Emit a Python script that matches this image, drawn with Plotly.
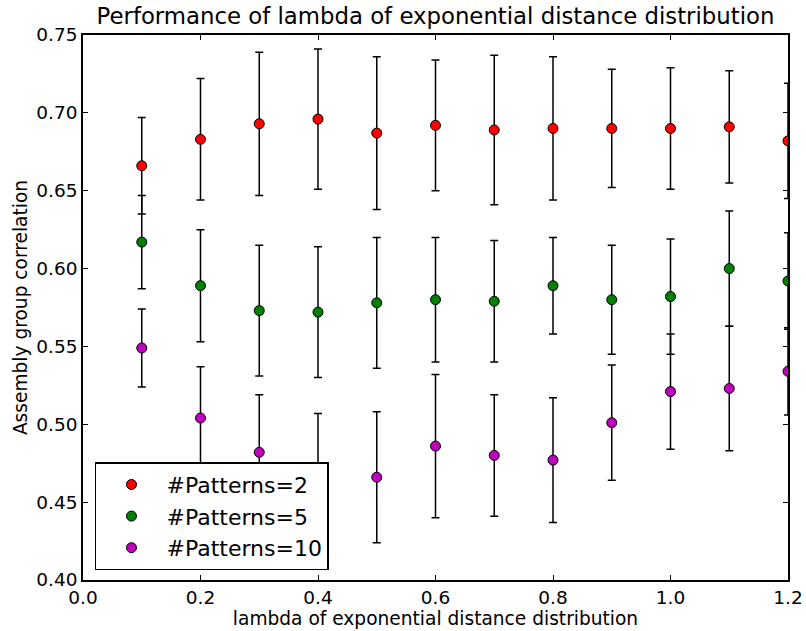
import plotly.graph_objects as go

# lambda values of the exponential distance distribution
lambdas = [0.1, 0.2, 0.3, 0.4, 0.5, 0.6, 0.7, 0.8, 0.9, 1.0, 1.1, 1.2]

# mean assembly group correlation and its standard deviation per pattern count
corr_p2 = [0.666, 0.683, 0.693, 0.696, 0.687, 0.692, 0.689, 0.690, 0.690, 0.690, 0.691, 0.682]
err_p2 = [0.031, 0.039, 0.046, 0.045, 0.049, 0.042, 0.048, 0.046, 0.038, 0.039, 0.036, 0.037]

corr_p5 = [0.617, 0.589, 0.573, 0.572, 0.578, 0.580, 0.579, 0.589, 0.580, 0.582, 0.600, 0.592]
err_p5 = [0.030, 0.036, 0.042, 0.042, 0.042, 0.040, 0.039, 0.031, 0.035, 0.037, 0.037, 0.031]

corr_p10 = [0.549, 0.504, 0.482, 0.469, 0.466, 0.486, 0.480, 0.477, 0.501, 0.521, 0.523, 0.534]
err_p10 = [0.025, 0.033, 0.037, 0.038, 0.042, 0.046, 0.039, 0.040, 0.037, 0.037, 0.040, 0.028]

x_ticks = [0.0, 0.2, 0.4, 0.6, 0.8, 1.0, 1.2]
y_ticks = [0.40, 0.45, 0.50, 0.55, 0.60, 0.65, 0.70, 0.75]

series = [
    ("#Patterns=2", corr_p2, err_p2, "#ff0000"),
    ("#Patterns=5", corr_p5, err_p5, "#008000"),
    ("#Patterns=10", corr_p10, err_p10, "#bf00bf"),
]

FONT = "DejaVu Sans, Liberation Sans, sans-serif"

fig = go.Figure()
for i, (name, vals, errs, color) in enumerate(series):
    fig.add_trace(go.Scatter(
        x=lambdas, y=vals, mode="markers", name=name,
        legendgroup=f"g{i}",
        marker=dict(size=10, color=color, line=dict(color="black", width=1)),
        error_y=dict(type="data", array=errs, visible=True,
                     color="black", thickness=1.5, width=4),
        cliponaxis=True,
    ))

axis_common = dict(
    showline=True, linecolor="black", linewidth=1.5, mirror="ticks",
    ticks="inside", ticklen=5, tickcolor="black", tickwidth=1,
    showgrid=False, zeroline=False, automargin=False,
    tickfont=dict(family=FONT, size=18.5, color="black"),
)

fig.update_layout(
    width=806, height=631,
    margin=dict(l=83, r=18, t=35, b=51),
    paper_bgcolor="white", plot_bgcolor="white",
    font=dict(family=FONT, color="black"),
    title=dict(text="Performance of lambda of exponential distance distribution",
               xref="paper", x=0.5, xanchor="center",
               yref="container", y=0.975, yanchor="middle",
               font=dict(family=FONT, size=22.8, color="black")),
    xaxis=dict(range=[0, 1.2], tickvals=x_ticks, tickformat=".1f",
               title=dict(text="lambda of exponential distance distribution",
                          font=dict(family=FONT, size=18.6), standoff=2),
               **axis_common),
    yaxis=dict(range=[0.40, 0.75], tickvals=y_ticks, tickformat=".2f",
               title=dict(text="Assembly group correlation",
                          font=dict(family=FONT, size=18.6), standoff=4),
               **axis_common),
    legend=dict(x=0.017, y=0.018, xanchor="left", yanchor="bottom",
                bordercolor="black", borderwidth=1.5, bgcolor="white",
                font=dict(family=FONT, size=22, color="black"),
                tracegroupgap=0, itemwidth=60,
                traceorder="grouped"),
    showlegend=True,
)

fig.write_html("out.html")
